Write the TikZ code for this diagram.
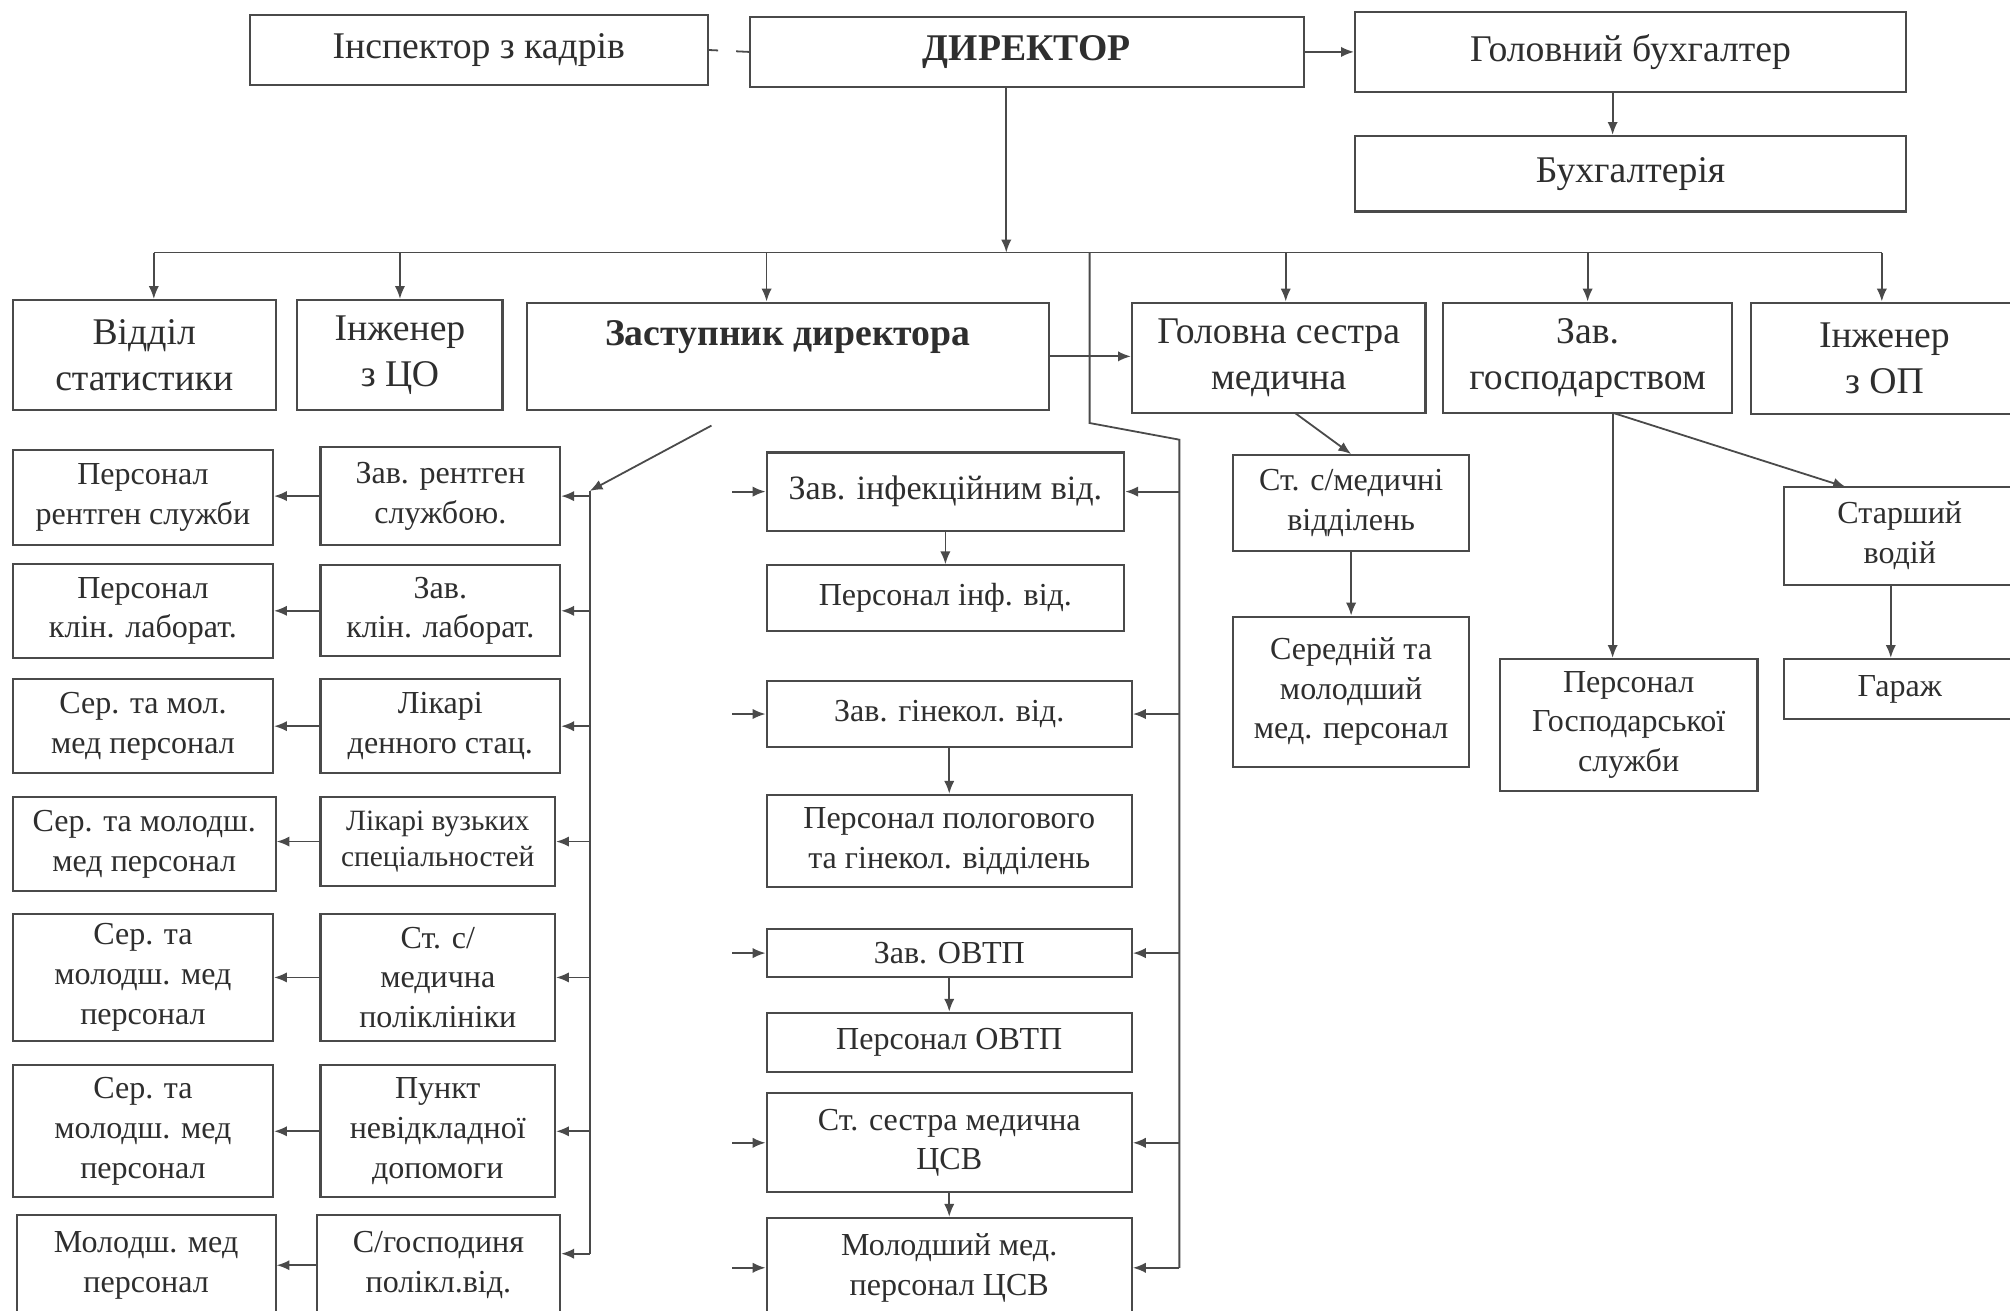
\documentclass[tikz,border=0pt]{standalone}
\usepackage{fontspec}
\setmainfont{Liberation Serif}
\usetikzlibrary{arrows.meta,calc}
\definecolor{lineC}{HTML}{4A4A4A}
\definecolor{textC}{HTML}{2E2E2E}
\newcommand\bx[7][]{\node[box,#1,minimum width={(#5-#3)*0.5pt},minimum height={(#6-#4)*0.5pt}] (#2) at ({(#3+#5)/2},{(#4+#6)/2}) {#7};}
\begin{document}
\begin{tikzpicture}[x=0.5pt,y=-0.5pt,
  box/.style={draw=lineC,line width=0.8pt,inner sep=0pt,align=center,text=textC,font=\fontsize{14.7}{18}\selectfont},
  sm/.style={font=\fontsize{12.5}{15.5}\selectfont},
  md/.style={font=\fontsize{13.3}{16}\selectfont},
  xs/.style={font=\fontsize{11.5}{14}\selectfont},
  conn/.style={draw=lineC,line width=0.7pt},
  arr/.style={conn,-{Latex[length=5pt,width=4pt]}}]
\fill[white] (0,0) rectangle (1568,1022);
\useasboundingbox (0,0) rectangle (1568,1022);
% top
\bx{insp}{195}{12}{552}{66}{Інспектор з кадрів}
\bx{dir}{585}{13}{1017}{68}{\textbf{ДИРЕКТОР}}
\bx{gb}{1057}{9}{1487}{72}{Головний бухгалтер}
\bx{buh}{1057}{106}{1487}{165}{Бухгалтерія}
% second row
\bx{stat}{10}{234}{215}{320}{Відділ\\статистики}
\bx{inzco}{232}{234}{392}{320}{Інженер\\з ЦО}
\bx{zast}{411}{236}{818}{320}{\textbf{Заступник директора}\\\mbox{}}
\bx{gs}{883}{236}{1112}{322}{Головна сестра\\медична}
\bx{zg}{1126}{236}{1351}{322}{Зав.\\господарством}
\bx{inzop}{1366}{236}{1574}{323}{Інженер\\з ОП}
% left-middle column
\bx[sm]{zr}{250}{349}{437}{425}{Зав. рентген\\службою.}
\bx[sm]{zk}{250}{441}{437}{512}{Зав.\\клін. лаборат.}
\bx[sm]{ld}{250}{530}{437}{603}{Лікарі\\денного стац.}
\bx[xs]{lv}{250}{622}{433}{691}{Лікарі вузьких\\спеціальностей}
\bx[sm]{smp}{250}{713}{433}{812}{Ст. с/\\медична\\поліклініки}
\bx[sm]{pn}{250}{831}{433}{934}{Пункт\\невідкладної\\допомоги}
\bx[sm]{sg}{247}{948}{437}{1026}{С/господиня\\полікл.від.}
% left column
\bx[sm]{pr}{10}{351}{213}{425}{Персонал\\рентген служби}
\bx[sm]{pk}{10}{440}{213}{513}{Персонал\\клін. лаборат.}
\bx[sm]{s1}{10}{530}{213}{603}{Сер. та мол.\\мед персонал}
\bx[sm]{s2}{10}{622}{215}{695}{Сер. та молодш.\\мед персонал}
\bx[sm]{s3}{10}{713}{213}{812}{Сер. та\\молодш. мед\\персонал}
\bx[sm]{s4}{10}{831}{213}{934}{Сер. та\\молодш. мед\\персонал}
\bx[sm]{mm}{13}{948}{215}{1026}{Молодш. мед\\персонал}
% middle column
\bx[md]{zi}{598}{353}{877}{414}{Зав. інфекційним від.}
\bx[sm]{pi}{598}{441}{877}{492}{Персонал інф. від.}
\bx[sm]{zgin}{598}{531}{883}{583}{Зав. гінекол. від.}
\bx[sm]{pp}{598}{620}{883}{692}{Персонал пологового\\та гінекол. відділень}
\bx[sm]{zo}{598}{725}{883}{762}{Зав. ОВТП}
\bx[sm]{po}{598}{790}{883}{836}{Персонал ОВТП}
\bx[sm]{sc}{598}{853}{883}{930}{Ст. сестра медична\\ЦСВ}
\bx[sm]{mc}{598}{950}{883}{1028}{Молодший мед.\\персонал ЦСВ}
% right part
\bx[sm]{ssv}{962}{355}{1146}{430}{Ст. с/медичні\\відділень}
\bx[sm]{smm}{962}{481}{1146}{598}{Середній та\\молодший\\мед. персонал}
\bx[sm]{pgs}{1170}{514}{1371}{617}{Персонал\\Господарської\\служби}
\bx[sm]{sv}{1392}{380}{1572}{456}{Старший\\водій}
\bx[sm]{gar}{1392}{514}{1572}{561}{Гараж}
% coordinates
\coordinate (b0) at (785,197);
\coordinate (bL) at (120,197);
\coordinate (bR) at (1468,197);
\coordinate (d3) at (598,197);
\coordinate (d4) at (1003,197);
\coordinate (rb0) at (850,197);
\coordinate (rb1) at (850,330);
\coordinate (rb2) at (920,343);
\coordinate (rb3) at (920,989);
\coordinate (za) at (555,332);
\coordinate (lb0) at (460,383);
\coordinate (lb1) at (460,978);
\coordinate (gbx) at (1258,0);
\coordinate (gsb) at (1010,322);
\coordinate (zgb) at (1258,322);
\coordinate (svt) at (1440,380);
\coordinate (gax) at (1475,0);
% connectors top
\draw[conn,dash pattern=on 5pt off 7pt] (dir.west) -- (insp.east);
\draw[arr] (dir.east) -- (gb.west |- dir.east);
\draw[arr] (gb.south -| gbx) -- (buh.north -| gbx);
\draw[arr] (dir.south -| b0) -- (b0);
\draw[conn] (bL) -- (bR);
\draw[arr] (bL) -- (bL |- stat.north);
\draw[arr] (inzco.north |- bL) -- (inzco.north);
\draw[arr] (d3) -- (d3 |- zast.north);
\draw[arr] (d4) -- (d4 |- gs.north);
\draw[arr] (zg.north |- bL) -- (zg.north);
\draw[arr] (bR) -- (bR |- inzop.north);
% right bus of middle column
\draw[conn] (rb0) -- (rb1) -- (rb2) -- (rb3);
\draw[arr] (rb2 |- zi.east) -- (zi.east);
\draw[arr] (rb2 |- zgin.east) -- (zgin.east);
\draw[arr] (rb2 |- zo.east) -- (zo.east);
\draw[arr] (rb2 |- sc.east) -- (sc.east);
\draw[arr] (rb3) -- (mc.east |- rb3);
% short arrows from the left
\foreach \n in {zi,zgin,zo,sc,mc} \draw[arr] ([xshift=-13pt]\n.west) -- (\n.west);
% middle column vertical
\draw[arr] (zi.south) -- (pi.north);
\draw[arr] (zgin.south) -- (pp.north);
\draw[arr] (zo.south) -- (po.north);
\draw[arr] (sc.south) -- (mc.north);
% deputy
\draw[arr] (zast.east) -- (zast.east -| gs.west);
\draw[arr] (za) -- (lb0);
\draw[conn] (lb0) -- (lb1);
\foreach \n in {zr,zk,ld,lv,smp,pn} \draw[arr] (lb0 |- \n.east) -- (\n.east);
\draw[arr] (lb1) -- (sg.east |- lb1);
\draw[arr] (zr.west) -- (zr.west -| pr.east);
\draw[arr] (zk.west) -- (zk.west -| pk.east);
\draw[arr] (ld.west) -- (ld.west -| s1.east);
\draw[arr] (lv.west) -- (lv.west -| s2.east);
\draw[arr] (smp.west) -- (smp.west -| s3.east);
\draw[arr] (pn.west) -- (pn.west -| s4.east);
\draw[arr] (sg.west) -- (sg.west -| mm.east);
% right part
\draw[arr] (gsb) -- (ssv.north);
\draw[arr] (ssv.south) -- (smm.north);
\draw[arr] (zgb) -- (zgb |- pgs.north);
\draw[arr] (zgb) -- (svt);
\draw[arr] (sv.south -| gax) -- (gar.north -| gax);
\end{tikzpicture}
\end{document}
